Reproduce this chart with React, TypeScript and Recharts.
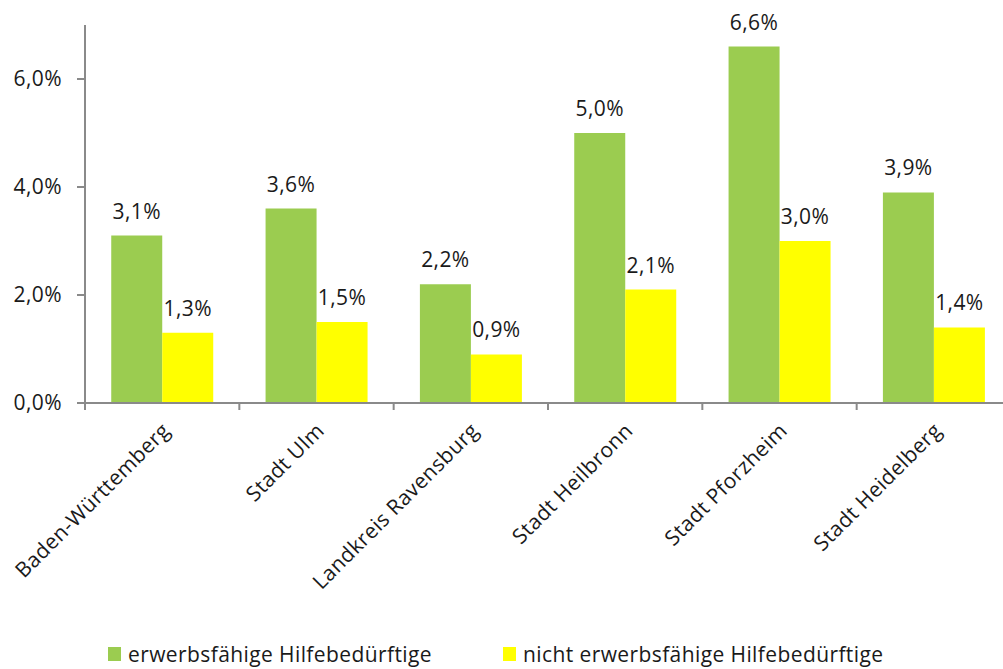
import { BarChart, Bar, XAxis, YAxis, Legend, LabelList } from "recharts";

// Anteil Hilfebedürftiger nach Region (in %)
const regions = [
  "Baden-Württemberg",
  "Stadt Ulm",
  "Landkreis Ravensburg",
  "Stadt Heilbronn",
  "Stadt Pforzheim",
  "Stadt Heidelberg",
];
const erwerbsfaehig = [3.1, 3.6, 2.2, 5.0, 6.6, 3.9];
const nichtErwerbsfaehig = [1.3, 1.5, 0.9, 2.1, 3.0, 1.4];
const yTicks = [0, 2, 4, 6];

const seriesNames = ["erwerbsfähige Hilfebedürftige", "nicht erwerbsfähige Hilfebedürftige"];

const GREEN = "#9bcc50";
const YELLOW = "#ffff00";
const AXIS = "#8a8a8a";
const TEXT = "#1a1a1a";
const FONT = "'Open Sans', sans-serif";
const FS = 21;
const LS = 0.4;

const CHART_W = 1011;
const CHART_H = 669;
const Y_AXIS_W = 85;
const BAND = (CHART_W - Y_AXIS_W) / regions.length;

const data = regions.map((name, i) => ({
  name,
  ew: erwerbsfaehig[i],
  new: nichtErwerbsfaehig[i],
}));

const fmt = (v: number) => v.toFixed(1).replace(".", ",") + "%";

// category label rotated -45°, with the tick mark drawn on the left band edge
function RegionTick({ x, y, payload }: any) {
  const left = x - BAND / 2;
  const tx = x + 9;
  const ty = y + 29;
  return (
    <g>
      <line x1={left} x2={left} y1={y} y2={y + 7} stroke={AXIS} strokeWidth={2} />
      <text
        x={tx}
        y={ty}
        transform={`rotate(-45, ${tx}, ${ty})`}
        textAnchor="end"
        fill={TEXT}
        fontSize={FS}
        letterSpacing={LS}
        fontFamily={FONT}
      >
        {payload.value}
      </text>
    </g>
  );
}

function LegendRow() {
  const items = [
    { color: GREEN, label: seriesNames[0], left: 108 },
    { color: YELLOW, label: seriesNames[1], left: 503 },
  ];
  return (
    <div style={{ position: "relative", height: 44, fontFamily: FONT, fontSize: FS, letterSpacing: LS, color: TEXT }}>
      {items.map((it) => (
        <div
          key={it.label}
          style={{ position: "absolute", left: it.left, top: 15, display: "flex", alignItems: "center", whiteSpace: "nowrap" }}
        >
          <span style={{ width: 13, height: 14, background: it.color, marginRight: 7, display: "inline-block" }} />
          <span>{it.label}</span>
        </div>
      ))}
    </div>
  );
}

export default function App() {
  return (
    <div style={{ position: "absolute", left: 0, top: 0, width: 1003, height: 669, overflow: "hidden", background: "#fff" }}>
      <BarChart
        width={CHART_W}
        height={CHART_H}
        data={data}
        margin={{ top: 25, right: 0, bottom: 0, left: 0 }}
        barCategoryGap="17%"
        barGap={0}
      >
        <XAxis
          dataKey="name"
          axisLine={{ stroke: AXIS, strokeWidth: 2 }}
          tickLine={false}
          tickSize={0}
          tickMargin={0}
          interval={0}
          height={222}
          tick={<RegionTick />}
        />
        <YAxis
          width={Y_AXIS_W}
          domain={[0, 7]}
          ticks={yTicks}
          allowDataOverflow
          axisLine={{ stroke: AXIS, strokeWidth: 2 }}
          tickLine={{ stroke: AXIS, strokeWidth: 2 }}
          tickSize={8}
          tickMargin={15}
          tick={{ fill: TEXT, fontSize: FS, fontFamily: FONT, letterSpacing: LS }}
          tickFormatter={fmt}
        />
        <Legend verticalAlign="bottom" height={44} content={<LegendRow />} />
        <Bar dataKey="ew" name={seriesNames[0]} fill={GREEN} isAnimationActive={false}>
          <LabelList dataKey="ew" position="top" offset={17} formatter={fmt} fill={TEXT} fontSize={FS} fontFamily={FONT} letterSpacing={LS} />
        </Bar>
        <Bar dataKey="new" name={seriesNames[1]} fill={YELLOW} isAnimationActive={false}>
          <LabelList dataKey="new" position="top" offset={17} formatter={fmt} fill={TEXT} fontSize={FS} fontFamily={FONT} letterSpacing={LS} />
        </Bar>
      </BarChart>
    </div>
  );
}
